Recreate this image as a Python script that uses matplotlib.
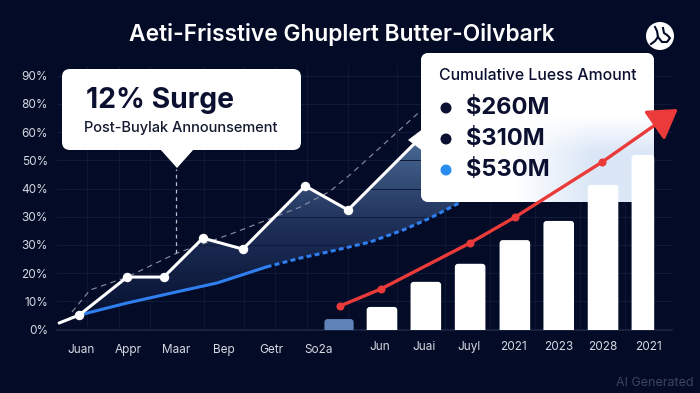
import numpy as np
import matplotlib
matplotlib.use("Agg")
import matplotlib.pyplot as plt
from matplotlib.patches import FancyBboxPatch, Polygon, Circle

plt.rcParams['font.family'] = ['Inter', 'DejaVu Sans']

BG = '#030b26'

# left panel, x is the month index
left_labels = ['Juan', 'Appr', 'Maar', 'Bep', 'Getr', 'So2a']
y_labels = ['0%', '10%', '20%', '30%', '30%', '40%', '50%', '60%', '80%', '90%']

white_x = [-0.46, -0.04, 0.97, 1.74, 2.56, 3.4, 4.71, 5.61, 7.08]
white_y = [2.3, 5.1, 18.6, 18.6, 32.4, 28.5, 50.9, 42.4, 67.2]

blue_x = [-0.04, 0.97, 2.0, 2.86, 3.9]
blue_y = [5.1, 9.4, 13.3, 16.5, 22.2]
blue_dash_x = [3.9, 4.6, 5.06, 6.07, 6.77, 7.33, 7.96]
blue_dash_y = [22.2, 25.3, 27.0, 31.0, 35.3, 39.5, 45.0]

trend_x = [-0.19, 0.19, 0.97, 2.0, 3.2, 4.6, 5.23, 5.66, 7.1]
trend_y = [6.2, 14.0, 18.6, 27.0, 34.2, 43.4, 49.0, 55.0, 77.0]

# right panel, x is the bar index
right_labels = ['Jun', 'Juai', 'Juyl', '2021', '2023', '2028', '2021']
right_tick_x = [0.93, 1.92, 2.94, 3.95, 4.95, 5.95, 6.98]
bar_x = [0, 0.97, 1.96, 2.96, 3.97, 4.96, 5.96, 6.86]
bar_h = [3.7, 8.0, 16.9, 23.3, 31.7, 38.5, 51.3, 61.9]
bar_w = [0.66, 0.69, 0.69, 0.69, 0.69, 0.69, 0.69, 0.51]
bar_c = ['#5f82b8', 'white', 'white', 'white', 'white', 'white', 'white', 'white']

red_x = [0.02, 0.95, 2.96, 3.98, 5.94]
red_y = [8.3, 14.4, 30.7, 39.9, 59.4]
red_tip = (7.65, 78.2)

legend_vals = ['$260M', '$310M', '$530M']
legend_cols = ['#0b1030', '#0b1030', '#2b8cf0']

W, H = 700, 393
BASE = 329.5
UNIT = 2.82
TOP = 66


def box(l, b, r, t):
    return [l / W, 1 - b / H, (r - l) / W, (b - t) / H]


fig = plt.figure(figsize=(7, 3.93), dpi=100, facecolor=BG)

ax = fig.add_axes(box(57, BASE, 672, TOP), zorder=1)
ax.set_facecolor(BG)

ax2 = fig.add_axes(box(57, BASE, 672, TOP), zorder=3)
ax2.patch.set_alpha(0)
ax2.set_xlim((57 - 339) / 44.3, (672 - 339) / 44.3)
ax2.set_ylim(0, (BASE - TOP) / UNIT)

ov = fig.add_axes([0, 0, 1, 1], zorder=2)
ov.patch.set_alpha(0)
ov.axis('off')

# grid
ax.set_yticks(np.arange(0, 100, 10))
ax.set_yticklabels(y_labels)
ax.set_xticks(range(len(left_labels)))
ax.set_xticklabels(left_labels)
ax.tick_params(length=0, labelsize=8.5, labelcolor='#d5d9e2')
ax.tick_params(axis='x', pad=10.5)
ax.tick_params(axis='y', pad=6.5)
ax.grid(axis='y', color='#101a3a', lw=0.7)
for gx in [87, 119, 150, 204, 244, 275, 307, 348, 397, 445, 490, 535, 580, 625]:
    ax.axvline((gx - 81) / 47.6, color='#0e1836', lw=0.7, zorder=0)
for s in ['top', 'right', 'left']:
    ax.spines[s].set_visible(False)
ax.spines['bottom'].set_color('#1c2744')
ax.spines['bottom'].set_linewidth(1.2)

# area between white and blue lines
fx = np.linspace(white_x[1], blue_dash_x[-1], 300)
wy = np.interp(fx, white_x, white_y)
by = np.interp(fx, blue_x[:-1] + blue_dash_x, blue_y[:-1] + blue_dash_y)
poly = ax.fill_between(fx, by, wy, color='none')
grad = np.linspace(0, 1, 256).reshape(-1, 1)
cm = matplotlib.colors.LinearSegmentedColormap.from_list('a', ['#071233', '#1e2f58', '#4a6b96'])
im = ax.imshow(grad, extent=[fx[0], fx[-1], 5, 68], origin='lower', aspect='auto', cmap=cm, zorder=1)
im.set_clip_path(poly.get_paths()[0], transform=ax.transData)
ax.set_xlim((57 - 81) / 47.6, (672 - 81) / 47.6)
ax.set_ylim(0, (BASE - TOP) / UNIT)

ax.plot(trend_x, trend_y, color='#8a92a6', lw=0.8, ls=(0, (5, 4)), zorder=2)
ax.plot(blue_x, blue_y, color='#2f7ff0', lw=2.2, zorder=3, solid_capstyle='round')
ax.plot(blue_dash_x, blue_dash_y, color='#2f7ff0', lw=2.2, ls=(0, (1.6, 1.1)), zorder=3)
ax.plot(white_x, white_y, color='white', lw=2.2, zorder=4, solid_capstyle='round', solid_joinstyle='miter')
ax.plot(white_x[1:-1], white_y[1:-1], 'o', color='white', ms=6.8, mec='none', zorder=5)
ax.plot([2.0, 2.0], [27, 57], color='#b9bfcc', lw=0.9, ls=(0, (3, 3)), zorder=2)

# callout
ov.add_patch(FancyBboxPatch((62, 69), 239, 81, boxstyle='round,pad=0,rounding_size=8', fc='white', ec='none'))
ov.add_patch(Polygon([(160, 149), (194, 149), (177, 168)], fc='white', ec='none'))
ov.text(86, 100, '12% Surge', fontsize=20.4, fontweight='bold', color='#0b1030', va='center')
ov.text(84, 128, 'Post-Buylak Announsement', fontsize=10.5, fontweight='medium', color='#14192f', va='center')

# legend box, fades to pale blue in the lower right
ov.add_patch(Polygon([(408, 140), (424, 128), (424, 152)], fc='white', ec='none'))
lg = FancyBboxPatch((421, 53), 233, 149, boxstyle='round,pad=0,rounding_size=8', fc='white', ec='none')
ov.add_patch(lg)
gx_, gy_ = np.meshgrid(np.linspace(0, 1, 200), np.linspace(0, 1, 120))
shade = np.clip((gx_ - 0.4) * 3, 0, 1) * np.clip((gy_ - 0.42) * 4, 0, 1)
cm2 = matplotlib.colors.LinearSegmentedColormap.from_list('b', ['#ffffff', '#dbe7f7'])
im2 = ov.imshow(shade, extent=[421, 654, 202, 53], cmap=cm2, aspect='auto', vmin=0, vmax=1, zorder=1.5)
im2.set_clip_path(lg)
ov.set_xlim(0, W)
ov.set_ylim(H, 0)
ov.text(439, 76, 'Cumulative Luess Amount', fontsize=11.4, fontweight='medium', color='#0b1030', va='center')
for i, (v, c) in enumerate(zip(legend_vals, legend_cols)):
    yy = 108 + i * 31
    ov.add_patch(Circle((446, yy), 5.5, fc=c, ec='none', zorder=2))
    ov.text(466, yy, v, fontsize=17, fontweight='bold', color='#0b1030', va='center')

# title and logo
fig.text(342 / W, 1 - 35 / H, 'Aeti-Frisstive Ghuplert Butter-Oilvbark', fontsize=16.4, fontweight='semibold',
         color='white', ha='center', va='center')
ov.add_patch(Circle((660, 36), 14, fc='white', ec='none'))
ov.plot([655, 657, 658, 655, 651], [27, 31, 37, 41, 44], color=BG, lw=1.5)
ov.plot([663, 664, 667, 670, 667, 662, 658], [28, 33, 35, 38, 42, 42, 37], color=BG, lw=1.5)
ov.text(694, 383, 'AI Generated', fontsize=9, color='#3a4560', ha='right', va='center')

# bars and red line
mut = (1 / UNIT) / (1 / 44.3)
ax2.axis('off')
for x, h, w, c in zip(bar_x, bar_h, bar_w, bar_c):
    ax2.add_patch(FancyBboxPatch((x - w / 2, -5), w, h + 5, boxstyle='round,pad=0,rounding_size=0.07',
                                 mutation_aspect=mut, fc=c, ec='none'))
for x, lab in zip(right_tick_x, right_labels):
    ax2.text(x, -6.2, lab, fontsize=8.5, color='#d5d9e2', ha='center', va='center')
ax2.plot(red_x, red_y, '-', color='#ea3a3a', lw=2.4, zorder=5)
ax2.plot(red_x, red_y, 'o', color='#ea3a3a', ms=5.8, mec='none', zorder=6)
ax2.annotate('', xy=red_tip, xytext=(red_x[-1], red_y[-1]), zorder=6, annotation_clip=False,
             arrowprops=dict(arrowstyle='-|>,head_length=0.8,head_width=0.5', color='#ea3a3a', lw=2.4,
                             shrinkA=0, shrinkB=0, mutation_scale=22))

fig.savefig('out.png', dpi=100, facecolor=BG)
